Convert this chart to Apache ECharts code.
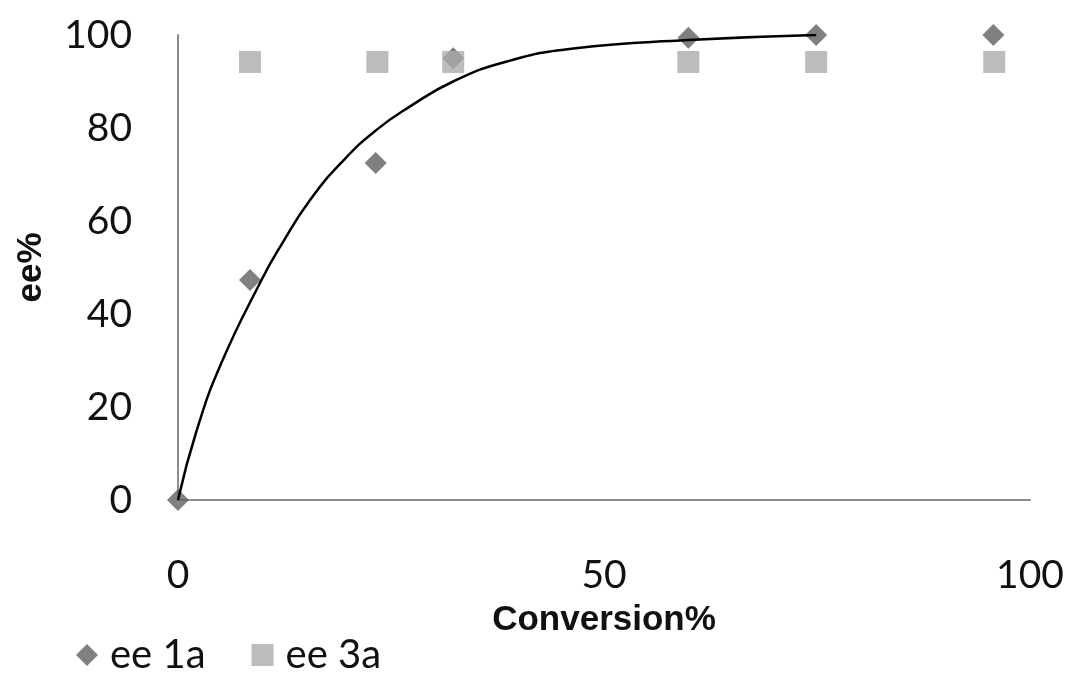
<!DOCTYPE html>
<html><head><meta charset="utf-8">
<script src="https://cdn.jsdelivr.net/npm/echarts@6/dist/echarts.min.js"></script>
<style>html,body{margin:0;padding:0;background:#fff}#c{width:1069px;height:675px}</style>
</head><body><div id="c"></div>
<script>
var ee1aX = [0, 8.45, 23.2, 32.3, 59.9, 74.9, 95.7];
var ee1aY = [0, 47.3, 72.5, 95, 99.4, 100, 100];
var ee3aX = [8.45, 23.4, 32.3, 59.9, 74.9, 95.8];
var ee3aY = [94.2, 94.2, 94.2, 94.2, 94.2, 94.2];
var trendX = [0, 2.2, 5.1, 9.8, 12.0, 15.5, 19.4, 23.3, 27.2, 32.3, 38.6, 46.4, 59.9, 74.9];
var trendY = [0, 15, 29.5, 47.3, 54.5, 64.5, 73.0, 79.6, 84.6, 90.0, 94.3, 97.1, 98.9, 100];
var xTicks = [0, 50, 100];
var yTicks = [0, 20, 40, 60, 80, 100];

function zip(a, b) { return a.map(function (v, i) { return [v, b[i]]; }); }

var chart = echarts.init(document.getElementById('c'));
chart.setOption({
  animation: false,
  grid: { left: 178, right: 39, top: 35, bottom: 175, outerBoundsMode: 'none', containLabel: false },
  legend: {
    left: 71, top: 630, itemGap: 46, itemWidth: 22, itemHeight: 22,
    textStyle: { fontFamily: 'Lato', fontSize: 40, color: '#111', padding: [0, 0, 0, 7] },
    data: [
      { name: 'ee 1a', icon: 'diamond', itemStyle: { color: '#606060' } },
      { name: 'ee 3a', icon: 'rect', itemStyle: { color: '#ababab' } }
    ]
  },
  xAxis: {
    type: 'value', min: 0, max: 100, interval: 50,
    name: 'Conversion%', nameLocation: 'middle', nameGap: 103,
    nameTextStyle: { fontFamily: 'Liberation Sans', fontWeight: 'bold', fontSize: 35, color: '#111' },
    axisLine: { show: true, lineStyle: { color: '#8c8c8c', width: 2 } },
    axisTick: { show: false }, splitLine: { show: false },
    axisLabel: { margin: 56, fontFamily: 'Lato', fontSize: 39, color: '#111' }
  },
  yAxis: {
    type: 'value', min: 0, max: 100, interval: 20,
    name: 'ee%', nameLocation: 'middle', nameGap: 129, nameRotate: 90,
    nameTextStyle: { fontFamily: 'Liberation Sans', fontWeight: 'bold', fontSize: 35, color: '#111' },
    axisLine: { show: true, lineStyle: { color: '#8c8c8c', width: 2 } },
    axisTick: { show: false }, splitLine: { show: false },
    axisLabel: { margin: 46, fontFamily: 'Lato', fontSize: 39, color: '#111' }
  },
  series: [
    { name: 'ee 1a', type: 'scatter', symbol: 'diamond', symbolSize: 22, z: 2,
      itemStyle: { color: '#606060' }, data: zip(ee1aX, ee1aY) },
    { name: 'ee 3a', type: 'scatter', symbol: 'rect', symbolSize: 22, z: 3,
      itemStyle: { color: '#ababab' }, data: zip(ee3aX, ee3aY) },
    { name: 'trend', type: 'line', smooth: 0.5, showSymbol: false, z: 4,
      lineStyle: { color: '#000', width: 2.5 }, data: zip(trendX, trendY) }
  ]
});
</script></body></html>
